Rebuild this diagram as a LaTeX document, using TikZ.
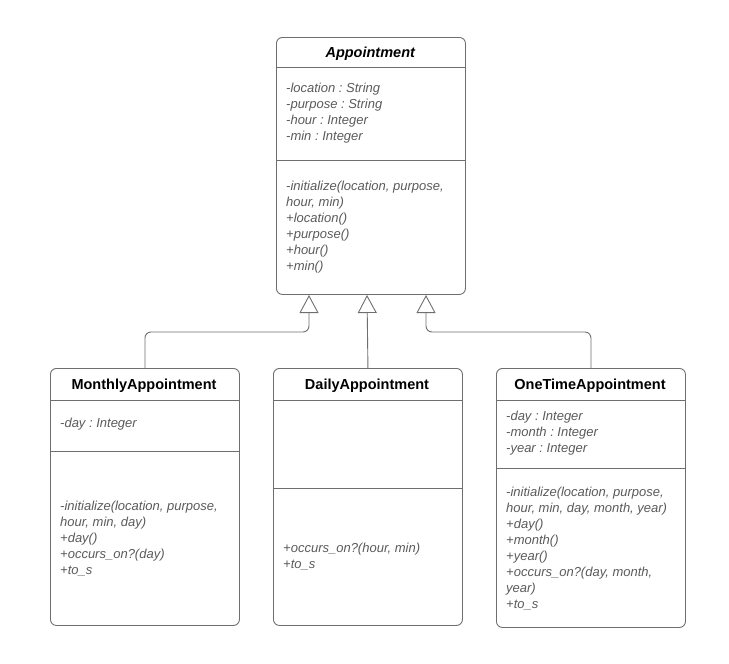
\documentclass[tikz,border=0pt]{standalone}
\usepackage{fontspec}
\setmainfont{Liberation Sans}
\usetikzlibrary{arrows.meta}
\definecolor{boxline}{RGB}{110,110,110}
\definecolor{membertext}{RGB}{90,90,90}
\frenchspacing

\tikzset{
  classbox/.style={draw=boxline, line width=0.9pt, rounded corners=6pt, anchor=north west,
    inner sep=0pt, minimum width=189pt},
  classname/.style={font=\fontsize{14.5}{16}\selectfont\bfseries, text=black, anchor=base},
  members/.style={font=\fontsize{13}{16}\selectfont\itshape, text=membertext, align=left,
    anchor=north west, inner sep=0pt},
  divider/.style={draw=boxline, line width=0.9pt},
  inherit/.style={draw=boxline, line width=0.9pt, rounded corners=6pt,
    -{Triangle[open, length=18pt, width=19pt]}}
}

\begin{document}
\begin{tikzpicture}[x=1pt, y=-1pt]
  \useasboundingbox (0,0) rectangle (729,664);

  % Draw the superclass
  \node[classbox, minimum height=257pt] (appt) at (276,37) {};
  \node[classname] (apptName) at (370.5,57) {\textit{Appointment}};
  \draw[divider] (276,67) -- (465,67);
  \draw[divider] (276,160) -- (465,160);
  \node[members] (apptAttr) at (286,83) {-location : String\\-purpose : String\\-hour : Integer\\-min : Integer};
  \node[members] (apptOps) at (286,181) {-initialize(location, purpose,\\hour, min)\\+location()\\+purpose()\\+hour()\\+min()};

  % Draw the subclasses
  \node[classbox, minimum height=257pt] (monthly) at (50,368) {};
  \node[classname] (monthlyName) at (144,389) {MonthlyAppointment};
  \draw[divider] (50,400) -- (239,400);
  \draw[divider] (50,451) -- (239,451);
  \node[members] (monthlyAttr) at (60,418) {-day : Integer};
  \node[members] (monthlyOps) at (60,501) {-initialize(location, purpose,\\hour, min, day)\\+day()\\+occurs\_on?(day)\\+to\_s};

  \node[classbox, minimum height=257pt] (daily) at (273,368) {};
  \node[classname] (dailyName) at (367,389) {DailyAppointment};
  \draw[divider] (273,400) -- (462,400);
  \draw[divider] (273,488) -- (462,488);
  \node[members] (dailyOps) at (283,543) {+occurs\_on?(hour, min)\\+to\_s};

  \node[classbox, minimum height=259pt] (onetime) at (496,368) {};
  \node[classname] (onetimeName) at (590,389) {OneTimeAppointment};
  \draw[divider] (496,400) -- (685,400);
  \draw[divider] (496,468) -- (685,468);
  \node[members] (onetimeAttr) at (506,411) {-day : Integer\\-month : Integer\\-year : Integer};
  \node[members] (onetimeOps) at (506,487) {-initialize(location, purpose,\\hour, min, day, month, year)\\+day()\\+month()\\+year()\\+occurs\_on?(day, month,\\year)\\+to\_s};

  % Inheritance arrows
  \coordinate (tipM) at (309,295);
  \coordinate (tipD) at (367,295);
  \coordinate (tipO) at (426,295);
  \draw[inherit] (monthly.north) |- (309,332) -- (tipM);
  \draw[inherit] (daily.north) -- (tipD);
  \draw[inherit] (onetime.north) |- (426,332) -- (tipO);

\end{tikzpicture}
\end{document}
